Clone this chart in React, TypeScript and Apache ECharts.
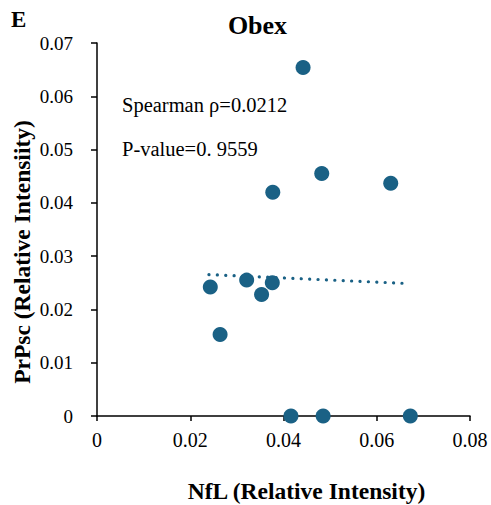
import React, { useEffect, useRef } from "react";
import * as echarts from "echarts";

const xValues = [0.0442, 0.0482, 0.063, 0.0377, 0.0321, 0.0376, 0.0243, 0.0353, 0.0264, 0.0416, 0.0485, 0.0672];
const yValues = [0.0654, 0.0455, 0.0437, 0.042, 0.0255, 0.025, 0.0242, 0.0228, 0.0153, 0, 0, 0];
const trendX = [0.024, 0.067];
const trendY = [0.02654, 0.02485];

const FONT = "Liberation Serif, Times New Roman, serif";
const COLOR = "#1a6185";

export default function App() {
  const ref = useRef<HTMLDivElement>(null);
  useEffect(() => {
    if (!ref.current) return;
    const chart = echarts.init(ref.current, null, { renderer: "svg" });
    chart.setOption({
      animation: false,
      backgroundColor: "#ffffff",
      textStyle: { fontFamily: FONT, color: "#000" },
      grid: { left: 97, right: 21, top: 43, bottom: 89, containLabel: false },
      graphic: [
        { type: "text", x: 11, y: 19, style: { text: "E", fontFamily: FONT, fontWeight: "bold", fontSize: 23, fill: "#000", textVerticalAlign: "middle" } },
        { type: "text", x: 257.5, y: 25, style: { text: "Obex", fontFamily: FONT, fontWeight: "bold", fontSize: 26, fill: "#000", textAlign: "center", textVerticalAlign: "middle" } },
        { type: "text", x: 122, y: 105, style: { text: "Spearman \u03c1=0.0212", fontFamily: FONT, fontSize: 20.5, fill: "#000", textVerticalAlign: "middle" } },
        { type: "text", x: 122, y: 149, style: { text: "P-value=0. 9559", fontFamily: FONT, fontSize: 20.5, fill: "#000", textVerticalAlign: "middle" } },
        { type: "text", x: 306.5, y: 491, style: { text: "NfL (Relative Intensity)", fontFamily: FONT, fontWeight: "bold", fontSize: 23.5, fill: "#000", textAlign: "center", textVerticalAlign: "middle" } },
        { type: "text", x: 22, y: 252, rotation: Math.PI / 2, style: { text: "PrPsc (Relative Intensiity)", fontFamily: FONT, fontWeight: "bold", fontSize: 23.5, fill: "#000", textAlign: "center", textVerticalAlign: "middle" } },
      ],
      xAxis: {
        type: "value",
        min: 0,
        max: 0.08,
        interval: 0.02,
        axisLine: { lineStyle: { color: "#000", width: 1.5 } },
        axisTick: { show: true, length: 5, lineStyle: { color: "#000", width: 1.5 } },
        axisLabel: { fontFamily: FONT, fontSize: 20, color: "#000", margin: 14 },
        splitLine: { show: false },
      },
      yAxis: {
        type: "value",
        min: 0,
        max: 0.07,
        interval: 0.01,
        axisLine: { show: true, lineStyle: { color: "#000", width: 1.5 } },
        axisTick: { show: true, length: 6, lineStyle: { color: "#000", width: 1.5 } },
        axisLabel: { fontFamily: FONT, fontSize: 19, color: "#000", margin: 24 },
        splitLine: { show: false },
      },
      series: [
        {
          type: "line",
          data: trendX.map((x, i) => [x, trendY[i]]),
          symbol: "none",
          lineStyle: { color: COLOR, width: 3.2, type: [0.1, 8.3], cap: "round" },
          z: 1,
        },
        {
          type: "scatter",
          data: xValues.map((x, i) => [x, yValues[i]]),
          symbolSize: 15,
          itemStyle: { color: COLOR, opacity: 1 },
          z: 2,
          clip: false,
        },
      ],
    });
    return () => chart.dispose();
  }, []);
  return <div ref={ref} style={{ width: 491, height: 505, position: "absolute", left: 0, top: 0 }} />;
}
